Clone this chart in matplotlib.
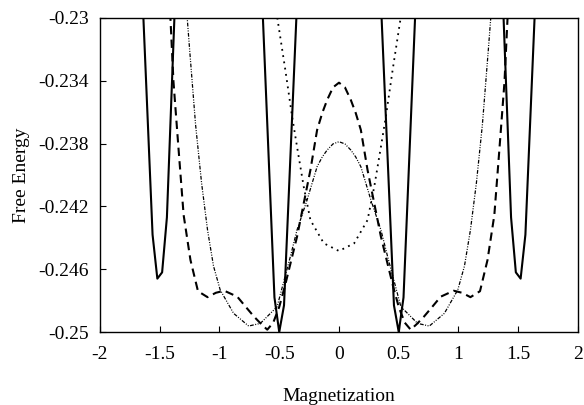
import numpy as np
import matplotlib
matplotlib.use("Agg")
import matplotlib.pyplot as plt

plt.rcParams['font.family'] = ['Liberation Serif', 'DejaVu Serif']
plt.rcParams['axes.unicode_minus'] = False

# solid curve (positive half, mirrored below)
solid_x = [0.0, 0.33, 0.46, 0.50, 0.54, 0.66, 1.0, 1.36, 1.44, 1.48, 1.52, 1.56, 1.66, 2.0]
solid_y = [-0.20, -0.2253, -0.2483, -0.2500, -0.2478, -0.2257, -0.20,
           -0.2265, -0.2427, -0.2462, -0.2466, -0.2438, -0.2258, -0.20]

# dashed curve (positive half)
dash_x = [0.0, 0.05, 0.099, 0.14, 0.183, 0.239, 0.295, 0.351, 0.392, 0.45, 0.50, 0.55, 0.60,
          0.65, 0.711, 0.78, 0.851, 0.96, 1.03, 1.10, 1.18, 1.243, 1.30, 1.343, 1.385, 1.42]
dash_y = [-0.23412, -0.23442, -0.23522, -0.23605, -0.23713, -0.23968, -0.2418, -0.24393,
          -0.2452, -0.2470, -0.2484, -0.2494, -0.24985, -0.2495, -0.24902, -0.2484, -0.24775,
          -0.24737, -0.2475, -0.24778, -0.2474, -0.24541, -0.24255, -0.2383, -0.23406, -0.2285]

# dotted curve (positive half)
dot_x = [0.0, 0.127, 0.239, 0.295, 0.351, 0.392, 0.449, 0.52, 0.56]
dot_y = [-0.24484, -0.24435, -0.24287, -0.24075, -0.2382, -0.23629, -0.23331, -0.2298, -0.2278]

# dash-dot curve (positive half)
dd_x = [0.0, 0.05, 0.099, 0.14, 0.183, 0.267, 0.351, 0.407, 0.518, 0.658, 0.756, 0.882, 0.994,
        1.05, 1.10, 1.15, 1.20, 1.25, 1.28]
dd_y = [-0.23788, -0.23802, -0.23841, -0.23885, -0.23947, -0.24159, -0.2435, -0.2452,
        -0.24839, -0.24945, -0.24962, -0.24881, -0.24732, -0.2458, -0.2435, -0.2405,
        -0.2368, -0.2320, -0.2290]

x_ticks = [-2, -1.5, -1, -0.5, 0, 0.5, 1, 1.5, 2]
x_labels = ['-2', '-1.5', '-1', '-0.5', '0', '0.5', '1', '1.5', '2']
y_ticks = [-0.25, -0.246, -0.242, -0.238, -0.234, -0.23]
y_labels = ['-0.25', '-0.246', '-0.242', '-0.238', '-0.234', '-0.23']


def mirror(xs, ys):
    xs = np.array(xs)
    ys = np.array(ys)
    if xs[0] == 0:
        return np.concatenate([-xs[:0:-1], xs]), np.concatenate([ys[:0:-1], ys])
    return np.concatenate([-xs[::-1], xs]), np.concatenate([ys[::-1], ys])


fig = plt.figure(figsize=(5.84, 4.05), dpi=100)
ax = fig.add_axes([0.1712, 0.1802, 0.8185, 0.7754])

x, y = mirror(solid_x, solid_y)
ax.plot(x, y, color='black', lw=1.5, ls='-')
x, y = mirror(dash_x, dash_y)
ax.plot(x, y, color='black', lw=1.5, ls=(0, (4, 2.5)))
x, y = mirror(dot_x, dot_y)
ax.plot(x, y, color='black', lw=1.3, ls=(0, (1, 2.5)))
x, y = mirror(dd_x, dd_y)
ax.plot(x, y, color='black', lw=0.9, ls=(0, (3, 1.2, 0.8, 1.2, 0.8, 1.2)))

ax.set_xlim(-2, 2)
ax.set_ylim(-0.25, -0.23)
ax.set_xticks(x_ticks)
ax.set_xticklabels(x_labels)
ax.set_yticks(y_ticks)
ax.set_yticklabels(y_labels)
ax.tick_params(direction='in', length=4, width=0.8, labelsize=14, top=False, right=False)
ax.tick_params(axis='x', pad=10)
ax.tick_params(axis='y', pad=8)
for s in ax.spines.values():
    s.set_linewidth(1.0)

ax.set_xlabel('Magnetization', fontsize=14, labelpad=18)
ax.set_ylabel('Free Energy', fontsize=14, labelpad=6)

fig.savefig('out.png', dpi=100)
